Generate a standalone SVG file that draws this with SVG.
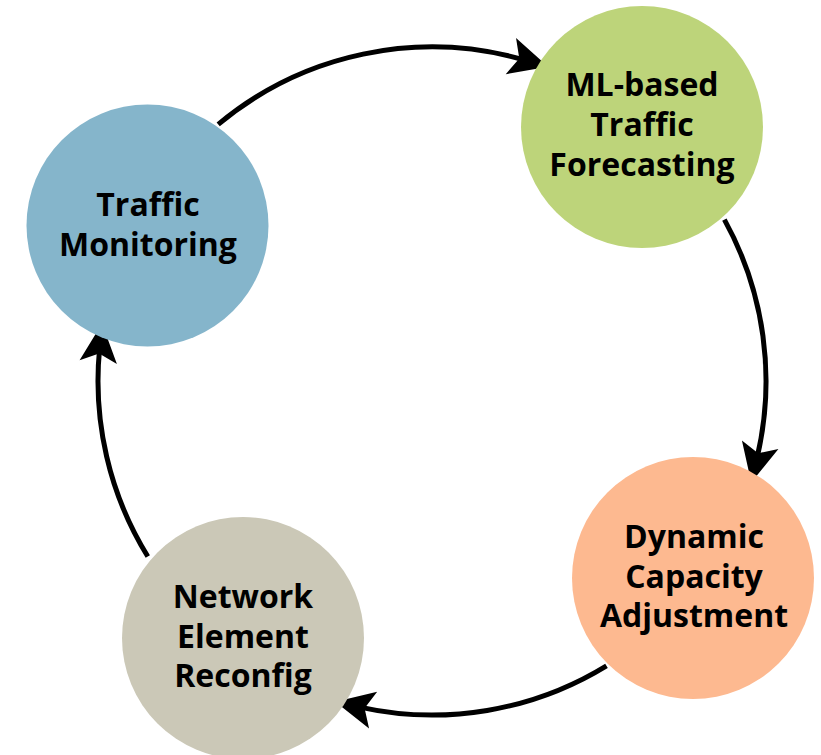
<svg xmlns="http://www.w3.org/2000/svg" width="821" height="755" viewBox="0 0 821 755">
  <defs>
    <style>
      .node-label { font-family: "Open Sans", "Noto Sans", "Liberation Sans", sans-serif; font-weight: 700; font-size: 32px; fill: #000; text-anchor: middle; }
      .flow { fill: none; stroke: #000; stroke-width: 5; }
    </style>
    <!-- swept arrowhead; tip sits 20px beyond the path end -->
    <marker id="head" markerUnits="userSpaceOnUse" markerWidth="40" markerHeight="40" viewBox="0 0 32 32" refX="11" refY="15" orient="auto" overflow="visible">
      <path d="M0,0 L31,15 L0,30 L7,15 Z" fill="#000"/>
    </marker>
  </defs>

  <rect width="821" height="755" fill="#fff"/>

  <!-- connectors: arcs of one ring centred at (432,381), r=334 -->
  <g id="connectors">
    <path class="flow" d="M218.2,124.4 A334,334 0 0 1 524.1,59.9" marker-end="url(#head)"/>
    <path class="flow" d="M724.4,219.6 A334,334 0 0 1 757.0,458.1" marker-end="url(#head)"/>
    <path class="flow" d="M606.5,665.8 A334,334 0 0 1 359.7,707.1" marker-end="url(#head)"/>
    <path class="flow" d="M147.8,556.5 A334,334 0 0 1 99.6,348.4" marker-end="url(#head)"/>
  </g>

  <g id="traffic-monitoring">
    <circle cx="147.5" cy="225.5" r="121" fill="#85B5CB"/>
    <text class="node-label" x="148" y="216">Traffic</text>
    <text class="node-label" x="148" y="256">Monitoring</text>
  </g>

  <g id="ml-forecasting">
    <circle cx="642" cy="127" r="121" fill="#BDD47A"/>
    <text class="node-label" x="642" y="96">ML-based</text>
    <text class="node-label" x="642" y="136">Traffic</text>
    <text class="node-label" x="642" y="176">Forecasting</text>
  </g>

  <g id="capacity-adjustment">
    <circle cx="693" cy="578" r="121" fill="#FDB990"/>
    <text class="node-label" x="694" y="548">Dynamic</text>
    <text class="node-label" x="694" y="588">Capacity</text>
    <text class="node-label" x="694" y="627">Adjustment</text>
  </g>

  <g id="element-reconfig">
    <circle cx="243" cy="638" r="121" fill="#CBC8B7"/>
    <text class="node-label" x="243" y="608">Network</text>
    <text class="node-label" x="243" y="648">Element</text>
    <text class="node-label" x="243" y="687">Reconfig</text>
  </g>
</svg>
